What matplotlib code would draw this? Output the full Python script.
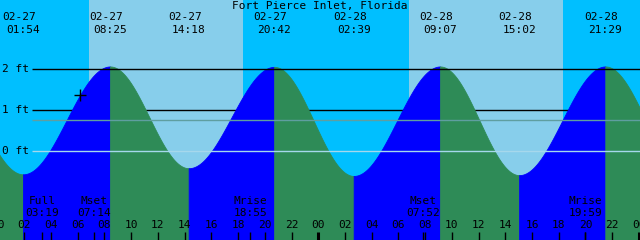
"""
Tide chart: Fort Pierce Inlet, Florida (02-27 .. 02-28)
"""

import numpy as np
import matplotlib.pyplot as plt

# tide extremes shown on the chart
tide_days = [0, 0, 0, 0, 1, 1, 1, 1]
tide_times = ["01:54", "08:25", "14:18", "20:42", "02:39", "09:07", "15:02", "21:29"]
tide_dates = ["02-27", "02-27", "02-27", "02-27", "02-28", "02-28", "02-28", "02-28"]
tide_feet = [-0.58, 2.07, -0.43, 2.06, -0.62, 2.07, -0.60, 2.07]

# extremes just outside the window (hours from 02-27 00:00), estimated from the curve ends
edge_hours = [-4.3, 51.5]
edge_feet = [2.00, -0.55]

# sunrise / sunset
sun_days = [0, 0, 1, 1]
sun_times = ["06:50", "18:22", "06:48", "18:19"]

# moon events
moon_days = [0, 0, 0, 1, 1]
moon_times = ["03:19", "07:14", "18:55", "07:52", "19:59"]
moon_names = ["Full", "Mset", "Mrise", "Mset", "Mrise"]

level_ticks = [2, 1, 0]
mean_level = 0.75

NIGHT = "#00bfff"
DAY = "#87ceeb"
RISING = "#0000ff"
FALLING = "#2e8b57"
FONT = dict(family="DejaVu Sans Mono", fontsize=8.0, color="black")


def to_hours(days, times):
    out = []
    for d, t in zip(days, times):
        hh, mm = t.split(":")
        out.append(d * 24 + int(hh) + int(mm) / 60)
    return np.array(out)


tide_h = to_hours(tide_days, tide_times)
sun_h = to_hours(sun_days, sun_times)
moon_h = to_hours(moon_days, moon_times)

all_h = np.concatenate([[edge_hours[0]], tide_h, [edge_hours[1]]])
all_f = np.concatenate([[edge_feet[0]], tide_feet, [edge_feet[1]]])

x0, x1 = 0.18, 48.08
y0, y1 = -2.194, 3.703

fig = plt.figure(figsize=(6.4, 2.4), dpi=100)
ax = fig.add_axes([0, 0, 1, 1])
ax.set_xlim(x0, x1)
ax.set_ylim(y0, y1)
ax.axis("off")

# sky: night / day
edges = [x0 - 1] + list(sun_h) + [x1 + 1]
for i in range(len(edges) - 1):
    ax.axvspan(edges[i], edges[i + 1], color=NIGHT if i % 2 == 0 else DAY, lw=0, zorder=0)

# level lines
lab_end = 2.58
ax.hlines(1, lab_end, x1 + 1, color="black", lw=1, zorder=1)
ax.hlines(2, lab_end, x1 + 1, color="black", lw=1, zorder=3)
ax.hlines(mean_level, lab_end, x1 + 1, color="#5f9ea0", lw=1, zorder=3)
ax.hlines(0, lab_end, x1 + 1, color="#a6d8ec", lw=1, zorder=3)

# water: rising (flood) blue, falling (ebb) green
for i in range(len(all_h) - 1):
    ta, tb = all_h[i], all_h[i + 1]
    fa, fb = all_f[i], all_f[i + 1]
    t = np.linspace(ta, tb, 200)
    f = fa + (fb - fa) * (1 - np.cos(np.pi * (t - ta) / (tb - ta))) / 2
    c = RISING if fb > fa else FALLING
    ax.fill_between(t, f, y0 - 1, color=c, lw=0.6, edgecolor=c, zorder=2)

# current time marker
now_h = 6.17
seg = np.searchsorted(all_h, now_h) - 1
ta, tb, fa, fb = all_h[seg], all_h[seg + 1], all_f[seg], all_f[seg + 1]
now_f = fa + (fb - fa) * (1 - np.cos(np.pi * (now_h - ta) / (tb - ta))) / 2
ax.plot(now_h, now_f, marker="+", color="black", ms=9, mew=1, zorder=4)

# level labels
for lv in level_ticks:
    ax.text(0.003, lv, f"{lv} ft", transform=ax.get_yaxis_transform(),
            ha="left", va="center", zorder=5, **FONT)

# header
fig.text(0.5, 0.977, "Fort Pierce Inlet, Florida", ha="center", va="center", **FONT)
xt = ax.get_xaxis_transform()
for h, d, t in zip(tide_h, tide_dates, tide_times):
    ax.text(h - 0.3, 0.929, d, transform=xt, ha="center", va="center", zorder=5, **FONT)
    ax.text(h, 0.875, t, transform=xt, ha="center", va="center", zorder=5, **FONT)

# bottom: moon events, hour labels, ticks
for h, n, t in zip(moon_h, moon_names, moon_times):
    ax.text(h, 0.162, n, transform=xt, ha="center", va="center", zorder=5, **FONT)
    ax.text(h, 0.1125, t, transform=xt, ha="center", va="center", zorder=5, **FONT)
    ax.vlines(h, 0, 8 / 240, transform=xt, color="black", lw=1, zorder=5)

for h in range(0, 49, 2):
    ax.text(h, 0.0625, f"{h % 24:02d}", transform=xt, ha="center", va="center",
            zorder=5, **FONT)
    ax.vlines(h, 0, 8 / 240, transform=xt, color="black",
              lw=2.2 if h % 24 == 0 else 1, zorder=5)

fig.savefig("out.png", dpi=100)
